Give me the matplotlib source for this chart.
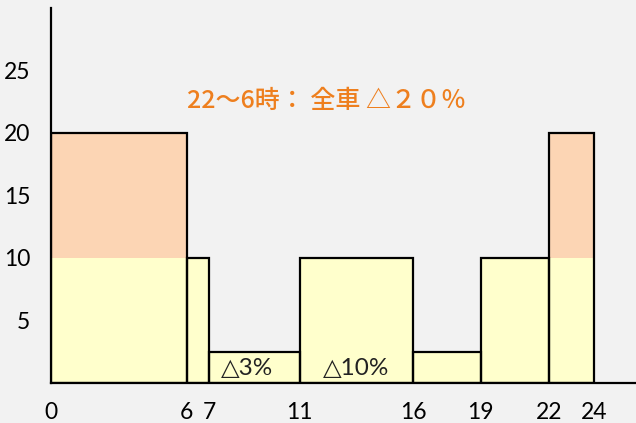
import matplotlib
matplotlib.use("Agg")
import matplotlib.pyplot as plt

# Data
starts = [0, 6, 7, 11, 16, 19, 22]
widths = [6, 1, 4, 5, 3, 3, 2]
base_heights = [10, 10, 2.5, 10, 2.5, 10, 10]
extra_heights = [10, 0, 0, 0, 0, 0, 10]
x_ticks = [0, 6, 7, 11, 16, 19, 22, 24]
y_ticks = [5, 10, 15, 20, 25]
title_text = "22～6時： 全車 △２０％"
labels = [("△3%", 8.65, 1.15), ("△10%", 13.5, 1.15)]

bg = "#F2F2F2"
yellow = "#FFFFCC"
orange = "#FCD5B4"
text_orange = "#EE7F1E"

fig = plt.figure(figsize=(6.36, 4.23), dpi=100, facecolor=bg)
ax = fig.add_axes([0.0802, 0.0946, 0.9198, 0.8865])
ax.set_facecolor(bg)

tot = [b + e for b, e in zip(base_heights, extra_heights)]
ax.bar(starts, base_heights, width=widths, align="edge", color=yellow, edgecolor="none", zorder=2)
ax.bar(starts, extra_heights, width=widths, bottom=base_heights, align="edge", color=orange, edgecolor="none", zorder=2)
ax.bar(starts, tot, width=widths, align="edge", facecolor="none", edgecolor="black", linewidth=1.6, zorder=3)

ax.set_xlim(0, 25.86)
ax.set_ylim(0, 30)
for s in ["top", "right"]:
    ax.spines[s].set_visible(False)
for s in ["left", "bottom"]:
    ax.spines[s].set_linewidth(1.6)
    ax.spines[s].set_color("black")
    ax.spines[s].set_zorder(4)

tick_font = ["Lato", "DejaVu Sans"]
ax.set_xticks(x_ticks)
ax.set_xticklabels([str(t) for t in x_ticks], fontfamily=tick_font, fontsize=16.5)
ax.set_yticks(y_ticks)
ax.set_yticklabels([str(t) for t in y_ticks], fontfamily=tick_font, fontsize=16.5)
ax.tick_params(axis="both", length=0)
ax.tick_params(axis="x", pad=14)
ax.tick_params(axis="y", pad=15)

ax.text(12.2, 22.6, title_text, color=text_orange, fontsize=18,
        fontfamily=["Noto Sans CJK JP", "DejaVu Sans"], fontweight="medium",
        ha="center", va="center", zorder=5)
for txt, x, y in labels:
    ax.text(x, y, txt, color="#222222", fontsize=17.5, fontfamily=["Lato", "DejaVu Sans"],
            ha="center", va="center", zorder=5)

fig.savefig("out.png", dpi=100, facecolor=bg)
